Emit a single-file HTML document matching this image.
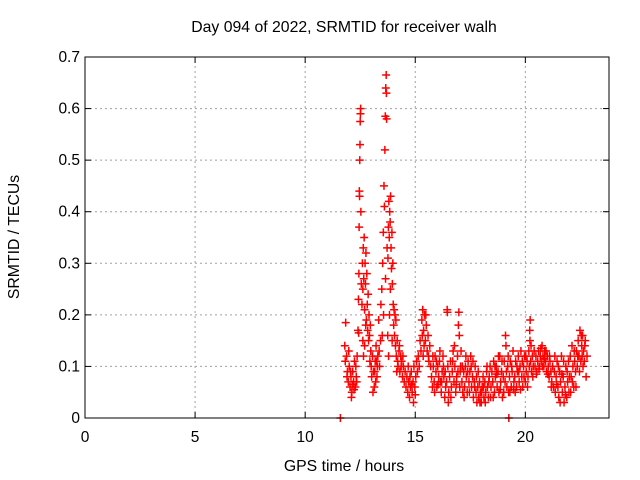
<!DOCTYPE html>
<html><head><meta charset="utf-8"><style>
html,body{margin:0;padding:0;background:#fff;}
svg{display:block;font-family:"Liberation Sans",sans-serif;}
</style></head><body>
<svg id="chart" width="640" height="480" viewBox="0 0 640 480">
<text x="344" y="32" text-anchor="middle" font-size="15.8">Day 094 of 2022, SRMTID for receiver walh</text>
<g id="grid"></g>
<g id="ticks"></g>
<g id="points"></g>
<rect x="85" y="57" width="524" height="361" fill="none" stroke="#000" stroke-width="1"/>
<text x="344" y="471" text-anchor="middle" font-size="15.8">GPS time / hours</text>
<text x="14" y="237" text-anchor="middle" font-size="15.8" transform="rotate(-90 14 237)" dy="5">SRMTID / TECUs</text>
</svg>
<script>
const xTicks=[0,5,10,15,20];
const yTicks=[0,0.1,0.2,0.3,0.4,0.5,0.6,0.7];
const yTickLabels=["0","0.1","0.2","0.3","0.4","0.5","0.6","0.7"];
const hours=[
11.6,
11.80,11.84,11.88,11.92,11.96,12.00,12.04,12.08,12.12,12.16,12.20,12.24,12.28,12.32,12.36,
11.82,11.9,11.98,12.06,12.14,12.22,12.30,12.34,12.1,
12.40,12.42,12.44,12.45,12.46,12.47,12.48,12.49,12.50,12.51,12.52,12.53,12.55,12.43,
12.58,12.60,12.62,12.64,12.66,12.68,12.70,12.72,12.74,12.76,12.78,12.80,12.82,12.84,12.86,12.88,12.90,12.92,12.94,12.96,12.98,13.00,12.62,12.7,12.75,12.65,
13.02,13.06,13.10,13.14,13.18,13.22,13.26,13.30,13.34,13.38,13.42,13.44,13.08,13.2,13.28,13.36,13.16,13.24,
13.48,13.52,13.55,13.58,13.60,13.62,13.64,13.66,13.68,13.69,13.70,13.72,13.5,13.56,13.65,
13.76,13.78,13.80,13.82,13.84,13.86,13.88,13.90,13.92,13.94,13.96,13.98,14.00,14.02,14.04,14.06,14.08,14.10,14.12,13.75,13.79,13.83,13.87,13.95,
14.14,14.18,14.22,14.26,14.30,14.34,14.38,14.42,14.46,14.50,14.54,14.58,14.16,14.2,14.28,14.36,14.44,
14.62,14.66,14.70,14.74,14.78,14.82,14.86,14.90,14.94,14.98,15.02,15.06,15.10,14.68,14.76,14.84,14.92,15.0,
15.14,15.18,15.22,15.26,15.30,15.34,15.38,15.42,15.46,15.50,15.54,15.58,15.62,15.66,15.70,15.32,15.4,15.48,15.36,15.6,
15.74,15.78,15.82,15.86,15.90,15.94,15.98,16.02,16.06,16.10,16.14,16.18,16.22,16.26,16.30,16.34,16.38,15.8,15.88,15.96,16.04,16.12,16.2,16.28,16.36,
16.42,16.45,16.46,16.48,16.52,16.56,16.60,16.64,16.68,16.72,16.76,16.80,16.84,16.88,16.92,16.96,16.98,17.00,17.04,17.08,16.5,16.62,16.7,16.78,16.86,16.94,17.02,17.06,
17.12,17.16,17.20,17.24,17.28,17.32,17.36,17.40,17.44,17.48,17.52,17.56,17.60,17.64,17.68,17.72,17.76,17.80,17.84,17.88,17.92,17.96,18.00,18.04,18.08,18.12,18.16,18.20,18.24,18.28,18.32,18.36,18.40,18.44,18.48,
17.14,17.22,17.3,17.38,17.46,17.54,17.62,17.7,17.78,17.86,17.94,18.02,18.1,18.18,18.26,18.34,18.42,
18.52,18.56,18.60,18.64,18.68,18.72,18.76,18.80,18.84,18.88,18.92,18.96,19.00,19.04,19.08,19.10,19.12,19.16,19.20,19.24,19.25,19.28,19.32,19.36,19.40,19.44,19.48,
18.54,18.62,18.7,18.78,18.86,18.94,19.02,19.14,19.22,19.3,19.38,19.46,
19.52,19.56,19.60,19.64,19.68,19.72,19.76,19.80,19.84,19.88,19.92,19.96,20.00,20.04,20.08,20.12,20.16,20.20,20.21,20.22,20.24,20.28,20.32,20.36,20.40,
19.54,19.62,19.7,19.78,19.86,19.94,20.02,20.1,20.18,20.26,20.34,
20.44,20.48,20.52,20.56,20.60,20.64,20.68,20.72,20.76,20.80,20.84,20.88,20.92,20.96,21.00,21.04,21.08,21.12,21.16,21.20,21.24,21.28,
20.5,20.62,20.7,20.78,20.86,20.94,21.02,21.1,21.18,
21.32,21.36,21.40,21.44,21.48,21.52,21.56,21.60,21.64,21.68,21.72,21.76,21.80,21.84,21.88,21.92,21.96,22.00,
21.34,21.42,21.5,21.58,21.66,21.74,21.82,21.9,21.98,
22.04,22.08,22.12,22.16,22.20,22.24,22.28,22.32,22.36,22.40,22.44,22.48,22.52,22.56,22.60,22.64,22.68,22.72,22.76,22.80,
22.06,22.14,22.22,22.3,22.38,22.46,22.54,22.62,22.7,22.58
];
const tecu=[
0.0,
0.14,0.185,0.12,0.09,0.07,0.10,0.06,0.08,0.05,0.09,0.07,0.11,0.06,0.08,0.12,
0.11,0.08,0.13,0.09,0.065,0.055,0.10,0.07,0.04,
0.17,0.23,0.28,0.37,0.44,0.43,0.50,0.53,0.575,0.59,0.60,0.40,0.26,0.165,
0.22,0.30,0.25,0.33,0.27,0.35,0.21,0.30,0.26,0.32,0.19,0.28,0.22,0.17,0.24,0.15,0.20,0.16,0.11,0.18,0.13,0.10,0.15,0.14,0.18,0.12,
0.08,0.12,0.09,0.06,0.11,0.14,0.08,0.12,0.19,0.10,0.15,0.22,0.05,0.07,0.10,0.13,0.09,0.11,
0.25,0.30,0.36,0.45,0.41,0.52,0.585,0.64,0.665,0.63,0.58,0.33,0.16,0.20,0.27,
0.31,0.37,0.42,0.35,0.40,0.38,0.43,0.33,0.29,0.36,0.26,0.30,0.22,0.18,0.21,0.16,0.20,0.14,0.19,0.16,0.12,0.20,0.25,0.15,
0.12,0.15,0.10,0.13,0.09,0.12,0.11,0.08,0.10,0.07,0.09,0.06,0.09,0.11,0.14,0.10,0.12,
0.08,0.05,0.07,0.04,0.06,0.09,0.05,0.07,0.10,0.06,0.08,0.11,0.09,0.10,0.08,0.065,0.03,0.045,
0.12,0.10,0.15,0.13,0.19,0.21,0.17,0.20,0.15,0.18,0.13,0.16,0.11,0.14,0.10,0.16,0.14,0.20,0.12,0.12,
0.08,0.06,0.10,0.07,0.12,0.09,0.06,0.10,0.08,0.11,0.07,0.05,0.09,0.12,0.08,0.04,0.06,0.12,0.05,0.11,0.065,0.13,0.07,0.10,0.09,
0.07,0.21,0.205,0.10,0.05,0.08,0.11,0.06,0.09,0.13,0.07,0.10,0.05,0.08,0.12,0.18,0.205,0.16,0.09,0.13,0.03,0.04,0.11,0.14,0.065,0.09,0.06,0.10,
0.07,0.05,0.09,0.06,0.10,0.08,0.05,0.11,0.07,0.09,0.12,0.06,0.08,0.04,0.07,0.10,0.05,0.03,0.06,0.04,0.07,0.05,0.03,0.06,0.08,0.04,0.07,0.05,0.09,0.06,0.04,0.08,0.10,0.06,0.09,
0.10,0.04,0.12,0.09,0.05,0.10,0.11,0.06,0.08,0.09,0.03,0.05,0.06,0.03,0.10,0.07,0.04,
0.07,0.11,0.05,0.08,0.10,0.06,0.09,0.05,0.12,0.07,0.09,0.04,0.08,0.11,0.07,0.16,0.14,0.06,0.10,0.05,0.0,0.08,0.11,0.06,0.09,0.13,0.07,
0.04,0.10,0.085,0.12,0.055,0.11,0.05,0.09,0.12,0.05,0.10,0.055,
0.08,0.11,0.06,0.09,0.12,0.07,0.10,0.13,0.08,0.06,0.10,0.12,0.07,0.09,0.11,0.08,0.13,0.17,0.15,0.19,0.11,0.09,0.12,0.10,0.13,
0.05,0.10,0.09,0.055,0.11,0.08,0.12,0.06,0.10,0.14,0.08,
0.10,0.12,0.09,0.11,0.13,0.10,0.12,0.11,0.14,0.12,0.10,0.13,0.11,0.09,0.12,0.10,0.08,0.11,0.09,0.07,0.10,0.06,
0.085,0.095,0.135,0.10,0.115,0.13,0.085,0.12,0.06,
0.09,0.05,0.08,0.11,0.06,0.04,0.09,0.07,0.12,0.05,0.08,0.03,0.06,0.10,0.04,0.07,0.11,0.08,
0.12,0.065,0.10,0.03,0.085,0.11,0.045,0.09,0.05,
0.12,0.08,0.14,0.10,0.06,0.11,0.09,0.13,0.10,0.15,0.12,0.17,0.11,0.14,0.16,0.13,0.11,0.15,0.08,0.12,
0.05,0.07,0.13,0.06,0.12,0.09,0.16,0.10,0.14,0.12
];
const NS="http://www.w3.org/2000/svg";
const X0=85,X1=609,XMAX=23.8,Y0=418,Y1=57,YMAX=0.7;
function xs(h){return X0+(X1-X0)*h/XMAX;}
function ys(v){return Y0-(Y0-Y1)*v/YMAX;}
const grid=document.getElementById('grid'),ticks=document.getElementById('ticks'),pts=document.getElementById('points');
function mk(tag,attrs,parent){const e=document.createElementNS(NS,tag);for(const k in attrs)e.setAttribute(k,attrs[k]);parent.appendChild(e);return e;}
xTicks.forEach(t=>{
  const x=xs(t);
  if(t>0){const g=mk('line',{x1:x,x2:x,y1:Y0,y2:Y1,stroke:'#a0a0a0','stroke-dasharray':'2,3'},grid);
  
  }
  mk('line',{x1:x,x2:x,y1:Y0,y2:Y0-6,stroke:'#000'},ticks);
  mk('line',{x1:x,x2:x,y1:Y1,y2:Y1+6,stroke:'#000'},ticks);
  const l=mk('text',{x:x,y:Y0+24,'text-anchor':'middle','font-size':'15.5'},ticks);l.textContent=String(t);
  
  
});
yTicks.forEach((t,i)=>{
  const y=ys(t);
  if(t>0&&t<YMAX){const g=mk('line',{x1:X0,x2:X1,y1:y,y2:y,stroke:'#a0a0a0','stroke-dasharray':'2,3'},grid);
  
  }
  mk('line',{x1:X0,x2:X0+6,y1:y,y2:y,stroke:'#000'},ticks);
  mk('line',{x1:X1,x2:X1-6,y1:y,y2:y,stroke:'#000'},ticks);
  const l=mk('text',{x:X0-5,y:y+5,'text-anchor':'end','font-size':'15.5'},ticks);l.textContent=yTickLabels[i];
  
  
});
const n=Math.min(hours.length,tecu.length);
for(let i=0;i<n;i++){
  const x=xs(hours[i]),y=ys(tecu[i]);
  const p=mk('path',{d:`M${x-4} ${y}H${x+4}M${x} ${y-4}V${y+4}`,stroke:'#ff0000','stroke-width':'1.5',fill:'none'},pts);
  
  
}
</script>
</body></html>
